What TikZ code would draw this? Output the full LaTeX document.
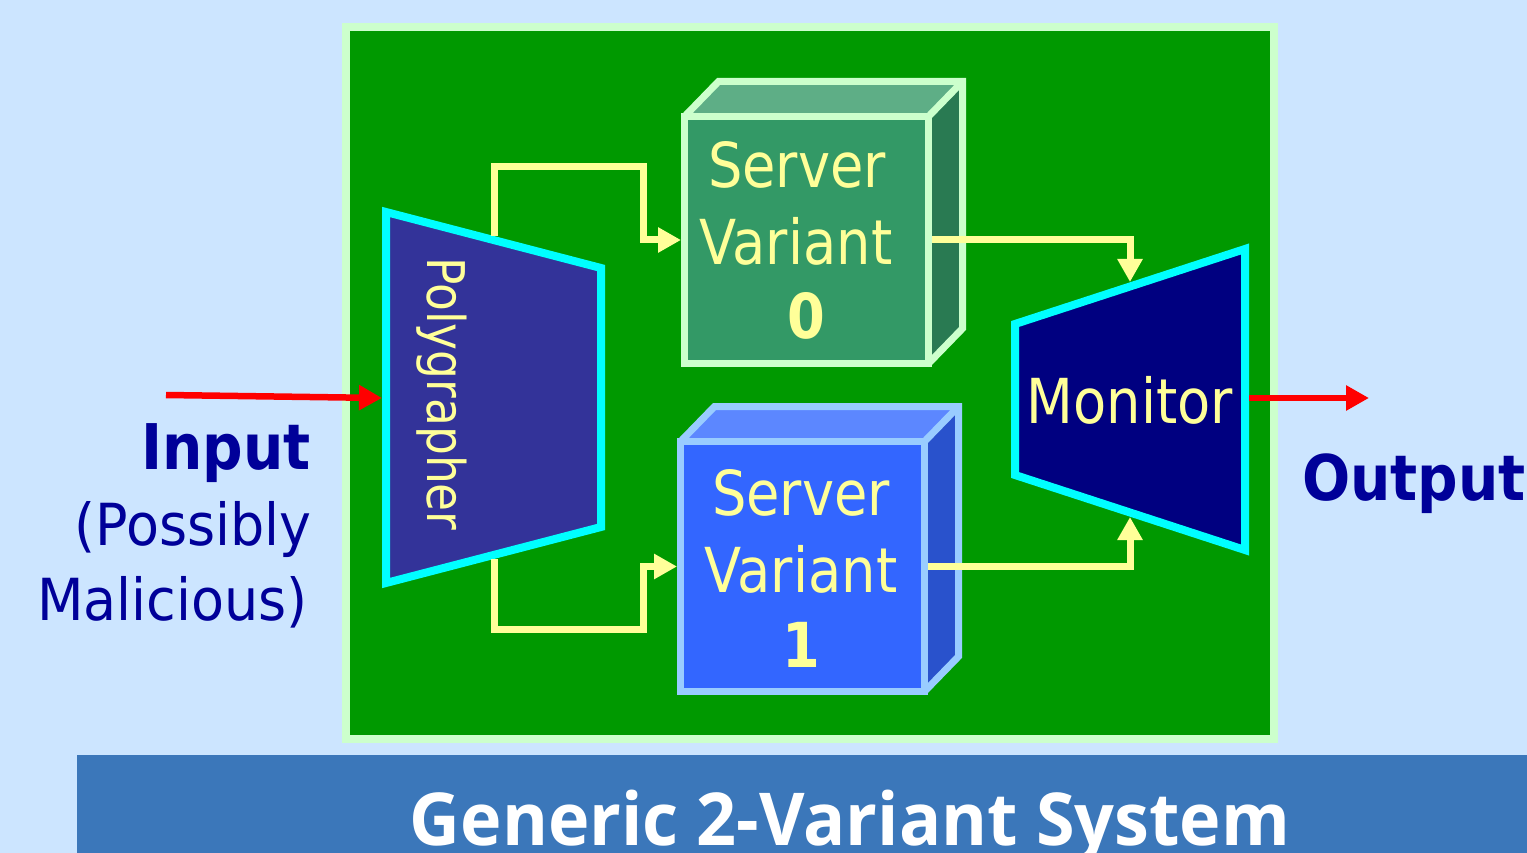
\documentclass[tikz,border=0pt]{standalone}
\usepackage{fontspec}
\usetikzlibrary{arrows.meta}
\newfontfamily\srvfont[FakeStretch=0.875]{DejaVu Sans}
\newfontfamily\labfont[FakeStretch=0.93]{DejaVu Sans}
\newfontfamily\bigfont[FakeStretch=0.9]{DejaVu Sans}
\newfontfamily\banfont[FakeStretch=0.96]{Open Sans}
\definecolor{bgblue}{RGB}{204,229,255}
\definecolor{panelborder}{RGB}{204,255,204}
\definecolor{panelgreen}{RGB}{0,153,0}
\definecolor{polyfill}{RGB}{51,51,153}
\definecolor{cyanline}{RGB}{0,255,255}
\definecolor{monfill}{RGB}{0,0,128}
\definecolor{yel}{RGB}{255,255,153}
\definecolor{vzfront}{RGB}{51,153,102}
\definecolor{vztop}{RGB}{94,174,134}
\definecolor{vzside}{RGB}{41,122,82}
\definecolor{vofront}{RGB}{51,102,255}
\definecolor{votop}{RGB}{92,135,255}
\definecolor{voside}{RGB}{41,82,204}
\definecolor{voborder}{RGB}{153,204,255}
\definecolor{labblue}{RGB}{0,0,153}
\definecolor{banner}{RGB}{59,119,186}
\definecolor{redline}{RGB}{255,0,0}
\begin{document}
\begin{tikzpicture}[x=1pt,y=-1pt,
  yarrow/.style={draw=yel, line width=7pt, -{Triangle[length=23pt,width=24pt]}},
  rarrow/.style={draw=redline, line width=6.5pt, -{Triangle[length=23pt,width=24pt]}},
  front/.style={rectangle, outer sep=0pt, inner sep=0pt},
  edge/.style={line width=7pt, line join=miter, line cap=round},
  trap/.style={draw=cyanline, line width=8pt, line join=miter},
  srvtext/.style={text=yel, font=\srvfont\fontsize{62}{70}\selectfont, anchor=base, inner sep=0pt},
  labtext/.style={text=labblue, font=\labfont\fontsize{58}{66}\selectfont, inner sep=0pt},
  bigtext/.style={text=labblue, font=\bigfont\bfseries\fontsize{63}{70}\selectfont, inner sep=0pt}]
\useasboundingbox (0,0) rectangle (1527,853);
\fill[bgblue] (0,0) rectangle (1527,853);
% banner
\fill[banner] (77,755) rectangle (1527,853);
\node[text=white, font=\banfont\bfseries\fontsize{73}{80}\selectfont, anchor=base, inner sep=0pt] (title) at (850,845) {Generic 2-Variant System};
% panel
\draw[draw=panelborder, fill=panelgreen, line width=8pt] (346,27) rectangle (1274,739);
% server variant 0
\node[front, minimum width=244pt, minimum height=247pt] (v0) at (806.5,240) {};
\fill[vztop] (v0.north west) -- ++(34,-35) -- ([shift={(34,-35)}]v0.north east) -- (v0.north east) -- cycle;
\fill[vzside] (v0.north east) -- ++(34,-35) -- ([shift={(34,-35)}]v0.south east) -- (v0.south east) -- cycle;
\draw[edge, draw=panelborder, fill=vzfront] (v0.north west) rectangle (v0.south east);
\draw[edge, draw=panelborder] (v0.north west) -- ++(34,-35) -- ([shift={(34,-35)}]v0.north east) -- ([shift={(34,-35)}]v0.south east) -- (v0.south east);
\draw[edge, draw=panelborder] (v0.north east) -- ([shift={(34,-35)}]v0.north east);
% server variant 1
\node[front, minimum width=244pt, minimum height=250pt] (v1) at (802.5,566.5) {};
\fill[votop] (v1.north west) -- ++(34,-35) -- ([shift={(34,-35)}]v1.north east) -- (v1.north east) -- cycle;
\fill[voside] (v1.north east) -- ++(34,-35) -- ([shift={(34,-35)}]v1.south east) -- (v1.south east) -- cycle;
\draw[edge, draw=voborder, fill=vofront] (v1.north west) rectangle (v1.south east);
\draw[edge, draw=voborder] (v1.north west) -- ++(34,-35) -- ([shift={(34,-35)}]v1.north east) -- ([shift={(34,-35)}]v1.south east) -- (v1.south east);
\draw[edge, draw=voborder] (v1.north east) -- ([shift={(34,-35)}]v1.north east);
% polygrapher
\draw[trap, fill=polyfill] (386,212) -- (601,268) -- (601,527) -- (386,583) -- cycle;
\coordinate (ptop) at (494,236);
\coordinate (pbot) at (494,559);
\coordinate (pin) at (382,398);
\coordinate (inStart) at (166,395);
\node[text=yel, font=\srvfont\fontsize{52}{60}\selectfont, rotate=-90, inner sep=0pt] (poly) at (442,394) {Polygrapher};
% monitor
\draw[trap, fill=monfill] (1015,324) -- (1245,249) -- (1245,550) -- (1015,475) -- cycle;
\coordinate (mtop) at (1130,282);
\coordinate (mbot) at (1130,517);
\coordinate (mout) at (1249,398);
\coordinate (outEnd) at (1369,398);
\node[srvtext] (mon) at (1130,423) {Monitor};
% yellow connectors
\coordinate (a1) at (643,167);
\coordinate (b1) at (643,629);
\draw[yarrow] (ptop) |- (a1) |- ([xshift=-3.5pt]v0.west);
\draw[yarrow] (pbot) |- (b1) |- ([xshift=-3.5pt]v1.west);
\draw[yarrow] ([xshift=3.5pt]v0.east) -| (mtop);
\draw[yarrow] ([xshift=3.5pt]v1.east) -| (mbot);
% red arrows
\draw[rarrow] (inStart) -- (pin);
\draw[rarrow] (mout) -- (outEnd);
% box texts
\node[srvtext] (s0a) at (797,188) {Server};
\node[srvtext] (s0b) at (796,265) {Variant};
\node[srvtext, font=\srvfont\bfseries\fontsize{62}{70}\selectfont] (s0c) at (806,338) {0};
\node[srvtext] (s1a) at (801,515) {Server};
\node[srvtext] (s1b) at (801,592) {Variant};
\node[srvtext, font=\srvfont\bfseries\fontsize{62}{70}\selectfont] (s1c) at (801,667) {1};
% labels
\node[bigtext, anchor=base east] (inp) at (311,469) {Input};
\node[labtext, anchor=base east] (pos) at (312,545) {(Possibly};
\node[labtext, anchor=base east] (mal) at (308,620) {Malicious)};
\node[bigtext, anchor=base west] (outp) at (1302,500) {Output};
\end{tikzpicture}
\end{document}
